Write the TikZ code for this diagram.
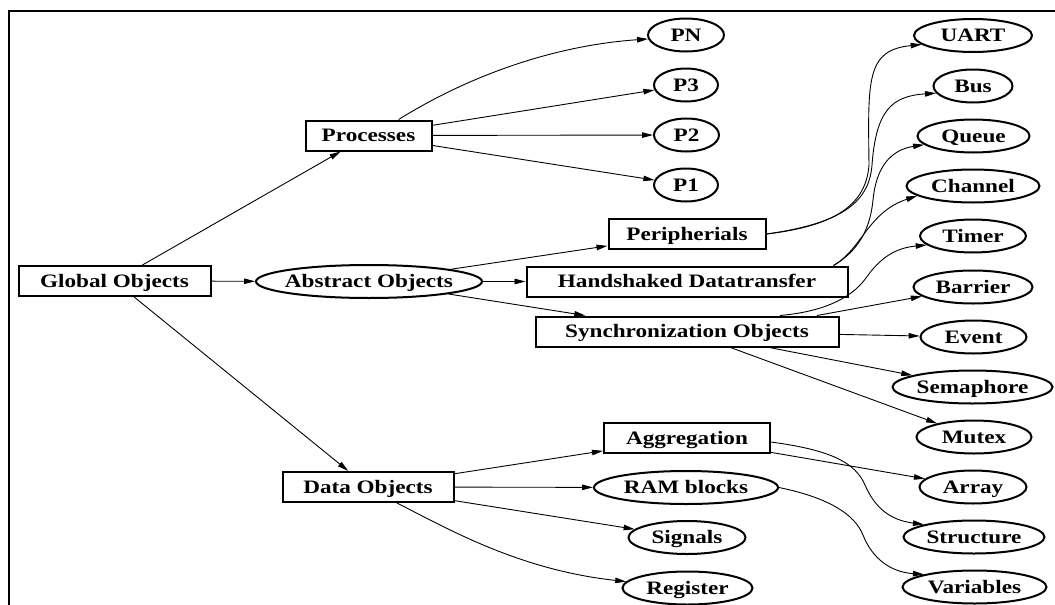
\documentclass[tikz,border=0pt]{standalone}
\usepackage{fontspec}
\setmainfont{Liberation Serif}[FakeStretch=1.22]
\usetikzlibrary{shapes.geometric,arrows.meta,calc}
\newcommand{\ovaltext}[1]{\makebox[0pt]{#1}}
\begin{document}
\begin{tikzpicture}[x=1pt,y=-1pt,
  lbl/.style={font=\fontsize{19}{21}\selectfont\bfseries,
    text height=16.8pt, text depth=4pt, line width=2pt, inner sep=0pt},
  box/.style={lbl, draw, rectangle, minimum height=30pt},
  oval/.style={lbl, draw, ellipse, minimum height=33pt},
  conn/.style={line width=0.9pt, -{Triangle[length=11pt,width=5.5pt]}},
]
\useasboundingbox (0,0) rectangle (1055,605);
% open frame
\draw[line width=2.2pt] (8.7,605) -- (8.7,11) -- (1055,11);

% first and second level
\node[box, minimum width=192pt] (glob) at (114.5,281) {Global Objects};
\node[box, minimum width=126pt] (proc) at (368.5,135.5) {Processes};
\node[oval, minimum width=226pt] (abst) at (369,281.5) {\ovaltext{Abstract Objects}};
\node[box, minimum width=171pt] (data) at (368,487) {Data Objects};

% third level
\node[oval, minimum width=76pt] (pn) at (686,35) {\ovaltext{PN}};
\node[oval, minimum width=64pt] (p3) at (686,85) {\ovaltext{P3}};
\node[oval, minimum width=65pt] (p2) at (686.5,135) {\ovaltext{P2}};
\node[oval, minimum width=64pt] (p1) at (686,185) {\ovaltext{P1}};
\node[box, minimum width=157pt] (peri) at (687,234) {Peripherials};
\node[box, minimum width=321pt] (hand) at (687,281.5) {Handshaked Datatransfer};
\node[box, minimum width=303pt] (sync) at (687,331.5) {Synchronization Objects};
\node[box, minimum width=166pt] (aggr) at (687,438) {Aggregation};
\node[oval, minimum width=184pt] (ram) at (686,487.5) {\ovaltext{RAM blocks}};
\node[oval, minimum width=117pt] (signals) at (687,537.5) {\ovaltext{Signals}};
\node[oval, minimum width=130pt] (register) at (687.5,588) {\ovaltext{Register}};

% leaves
\node[oval, minimum width=118pt] (uart) at (973,35.5) {\ovaltext{UART}};
\node[oval, minimum width=79pt] (bus) at (973,86) {\ovaltext{Bus}};
\node[oval, minimum width=112pt] (queue) at (973.5,136) {\ovaltext{Queue}};
\node[oval, minimum width=133pt] (chan) at (973,186) {\ovaltext{Channel}};
\node[oval, minimum width=106pt] (timer) at (973,236) {\ovaltext{Timer}};
\node[oval, minimum width=119pt] (barr) at (973,287) {\ovaltext{Barrier}};
\node[oval, minimum width=106pt] (event) at (973.5,337) {\ovaltext{Event}};
\node[oval, minimum width=160pt] (sema) at (972.5,387) {\ovaltext{Semaphore}};
\node[oval, minimum width=115pt] (mutex) at (974,437) {\ovaltext{Mutex}};
\node[oval, minimum width=107pt] (array) at (973,487) {\ovaltext{Array}};
\node[oval, minimum width=141pt] (struct) at (974,537) {\ovaltext{Structure}};
\node[oval, minimum width=144pt] (vars) at (974.5,587) {\ovaltext{Variables}};

% straight connectors
\draw[conn] (glob) -- (proc);
\draw[conn] (glob) -- (abst);
\draw[conn] (glob) -- (data);
\draw[conn] (proc) -- (p3);
\draw[conn] (proc) -- (p2);
\draw[conn] (proc) -- (p1);
\draw[conn] (abst) -- (peri);
\draw[conn] (abst) -- (hand);
\draw[conn] (abst) -- (sync);
\draw[conn] ($(sync.north)+(130,0)$) -- (barr);
\draw[conn] (sync) -- (event);
\draw[conn] (sync) -- (sema);
\draw[conn] (sync) -- (mutex);
\draw[conn] (data) -- (aggr);
\draw[conn] (data) -- (ram);
\draw[conn] (data) -- (signals);
\draw[conn] (aggr) -- (array);

% curved connectors
\draw[conn] (proc.28.5) .. controls (475,72) and (560,45) .. (pn.186);
\draw[conn] (peri.east) .. controls (835,226) and (866,205) .. (869,165)
  .. controls (868,80) and (866,50) .. (uart.190);
\draw[conn] (peri.east) .. controls (837,224) and (869,205) .. (872,165)
  .. controls (876,110) and (892,96) .. (bus.191);
\draw[conn] ($(hand.north east)+(-15,0)$) .. controls (858,251) and (870,230) .. (873,200)
  .. controls (876,168) and (890,150) .. (queue.190.6);
\draw[conn] ($(hand.north east)+(-15,0)$) .. controls (862,249) and (868,212) .. (chan.190.5);
\draw[conn] ($(sync.north)+(93,0)$) .. controls (820,312) and (850,300) .. (866,278)
  .. controls (880,258) and (895,248) .. (timer.191);
\draw[conn] ($(aggr.east)+(0,4)$) .. controls (830,450) and (855,462) .. (865,485)
  .. controls (875,508) and (890,520) .. (struct.166.6);
\draw[conn] (ram.east) .. controls (830,498) and (855,515) .. (863,535)
  .. controls (872,558) and (890,572) .. (vars.166.6);
\draw[conn] ($(data.south)+(29,0)$) .. controls (450,530) and (520,570) .. (register.174);
\end{tikzpicture}
\end{document}
